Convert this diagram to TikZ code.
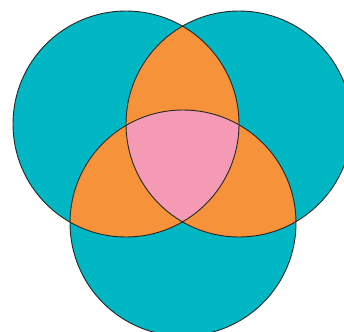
\documentclass[tikz,border=0pt]{standalone}
\definecolor{vteal}{HTML}{00B7C3}
\definecolor{vorange}{HTML}{F6923A}
\definecolor{vpink}{HTML}{F59AB4}
\tikzset{ring/.style={draw=black!85,line width=0.9pt}}
\begin{document}
\begin{tikzpicture}[x=1pt,y=-1pt]
\useasboundingbox (0,0) rectangle (344,331);
\coordinate (A) at (126,124);
\coordinate (B) at (239,124);
\coordinate (C) at (183,223);
\def\R{113}
\fill[vteal] (A) circle[radius=\R];
\fill[vteal] (B) circle[radius=\R];
\fill[vteal] (C) circle[radius=\R];
\begin{scope}
\clip (A) circle[radius=\R];
\fill[vorange] (B) circle[radius=\R];
\fill[vorange] (C) circle[radius=\R];
\end{scope}
\begin{scope}
\clip (B) circle[radius=\R];
\fill[vorange] (C) circle[radius=\R];
\end{scope}
\begin{scope}
\clip (A) circle[radius=\R];
\clip (B) circle[radius=\R];
\fill[vpink] (C) circle[radius=\R];
\end{scope}
\draw[ring] (A) circle[radius=\R];
\draw[ring] (B) circle[radius=\R];
\draw[ring] (C) circle[radius=\R];
\end{tikzpicture}
\end{document}
